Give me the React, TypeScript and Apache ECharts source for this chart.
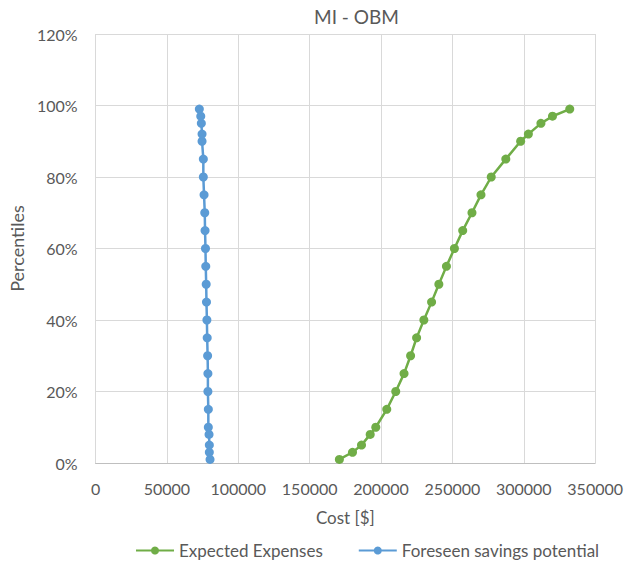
import React, { useEffect, useRef } from "react";
import * as echarts from "echarts";

const percentiles = [1, 3, 5, 8, 10, 15, 20, 25, 30, 35, 40, 45, 50, 55, 60, 65, 70, 75, 80, 85, 90, 92, 95, 97, 99];
const expectedExpenses = [170800, 180000, 186300, 192400, 196300, 204000, 210300, 216100, 220700, 224900, 230000, 235400, 240500, 245800, 251400, 257200, 263700, 270000, 277200, 287400, 297800, 303200, 312000, 320100, 332200];
const foreseenSavings = [80200, 79700, 79700, 79500, 79000, 79000, 78700, 78700, 78500, 78200, 78000, 77700, 77500, 77200, 77000, 76700, 76500, 76000, 75500, 75500, 74600, 74600, 74100, 73700, 72700];
const seriesNames = ["Expected Expenses", "Foreseen savings potential"];
const chartTitle = "MI - OBM";
const xAxisName = "Cost [$]";
const yAxisName = "Percentiles";

const FONT = "Lato, 'Open Sans', sans-serif";
const TEXT = "#595959";

export default function App() {
  const ref = useRef<HTMLDivElement>(null);
  useEffect(() => {
    if (!ref.current) return;
    const chart = echarts.init(ref.current, undefined, { renderer: "svg" });
    const mk = (xs: number[]) => xs.map((x, i) => [x, percentiles[i]]);
    chart.setOption({
      animation: false,
      backgroundColor: "#ffffff",
      textStyle: { fontFamily: FONT },
      title: {
        text: chartTitle,
        left: 309,
        top: 2,
        textStyle: { fontFamily: FONT, fontSize: 19, fontWeight: "normal", color: TEXT },
      },
      grid: { left: 95, right: 29, top: 34, bottom: 104, containLabel: false },
      xAxis: {
        type: "value",
        min: 0,
        max: 350000,
        interval: 50000,
        name: xAxisName,
        nameLocation: "middle",
        nameGap: 46,
        nameTextStyle: { fontFamily: FONT, fontSize: 17, color: TEXT },
        axisLine: { show: true, lineStyle: { color: "#BFBFBF", width: 1 } },
        axisTick: { show: false },
        axisLabel: { color: TEXT, fontSize: 16, fontFamily: FONT, margin: 17, formatter: (v: number) => String(v) },
        splitLine: { show: true, lineStyle: { color: "#D9D9D9", width: 1 } },
      },
      yAxis: {
        type: "value",
        min: 0,
        max: 120,
        interval: 20,
        name: yAxisName,
        nameLocation: "middle",
        nameGap: 68,
        nameRotate: 90,
        nameTextStyle: { fontFamily: FONT, fontSize: 18, color: TEXT },
        axisLine: { show: false },
        axisTick: { show: false },
        axisLabel: { color: TEXT, fontSize: 16, fontFamily: FONT, margin: 18, formatter: (v: number) => `${v}%` },
        splitLine: { show: true, lineStyle: { color: "#D9D9D9", width: 1 } },
      },
      legend: {
        bottom: 3,
        left: 130,
        itemWidth: 38,
        itemHeight: 10,
        itemGap: 35,
        textStyle: { fontFamily: FONT, fontSize: 17, color: TEXT },
        data: seriesNames,
      },
      series: [
        {
          name: seriesNames[0],
          type: "line",
          data: mk(expectedExpenses),
          symbol: "circle",
          symbolSize: 9,
          color: "#70AD47",
          lineStyle: { width: 2.5, color: "#70AD47" },
          itemStyle: { color: "#70AD47" },
        },
        {
          name: seriesNames[1],
          type: "line",
          data: mk(foreseenSavings),
          symbol: "circle",
          symbolSize: 9,
          color: "#5B9BD5",
          lineStyle: { width: 2.5, color: "#5B9BD5" },
          itemStyle: { color: "#5B9BD5" },
        },
      ],
    });
    return () => chart.dispose();
  }, []);
  return <div ref={ref} style={{ width: 626, height: 567, position: "absolute", left: 0, top: 0 }} />;
}
